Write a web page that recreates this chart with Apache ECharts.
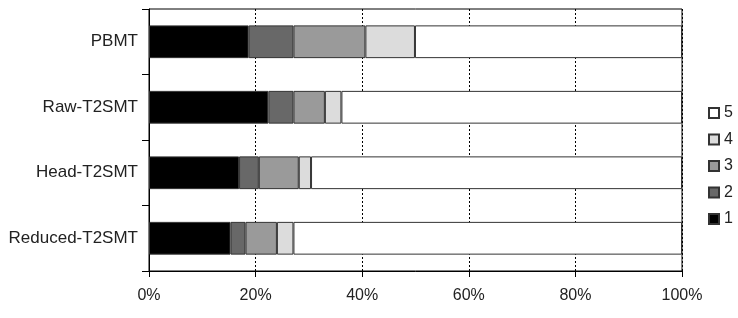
<!DOCTYPE html>
<html>
<head>
<meta charset="utf-8">
<script src="https://cdn.jsdelivr.net/npm/echarts@6/dist/echarts.min.js"></script>
<style>
  html, body { margin: 0; padding: 0; background: #fff; }
  #chart { width: 738px; height: 318px; }
</style>
</head>
<body>
<div id="chart"></div>
<script>
// categories top to bottom
const systems = ['PBMT', 'Raw-T2SMT', 'Head-T2SMT', 'Reduced-T2SMT']
// share (%) of each score per system
const score1 = [18.7, 22.4, 16.9, 15.3]
const score2 = [8.4, 4.7, 3.7, 2.8]
const score3 = [13.5, 5.9, 7.5, 5.9]
const score4 = [9.3, 3.1, 2.3, 3.1]
const score5 = [50.1, 63.9, 69.6, 72.9]
const scoreNames = ['1', '2', '3', '4', '5']
const scoreColors = ['#000000', '#686868', '#9a9a9a', '#dcdcdc', '#ffffff']

const scoreData = [score1, score2, score3, score4, score5]
const font = 'Liberation Sans, Arial, sans-serif'

let myChart = echarts.init(document.getElementById('chart'))

myChart.setOption({
  animation: false,
  grid: {
    left: 149,
    right: 56,
    top: 9,
    bottom: 47,
    show: true,
    borderColor: '#000',
    borderWidth: 1,
    backgroundColor: 'transparent'
  },
  legend: {
    orient: 'vertical',
    left: 708,
    top: 105,
    padding: 0,
    itemWidth: 10,
    itemHeight: 10,
    itemGap: 10.5,
    icon: 'rect',
    data: ['5', '4', '3', '2', '1'],
    textStyle: { fontFamily: font, fontSize: 16, lineHeight: 15, color: '#222' }
  },
  xAxis: {
    type: 'value',
    min: 0,
    max: 100,
    interval: 20,
    axisLine: { show: true, lineStyle: { color: '#000', width: 1 } },
    axisTick: { show: true, length: 6, lineStyle: { color: '#000' } },
    axisLabel: {
      formatter: '{value}%',
      margin: 17,
      fontFamily: font,
      fontSize: 16,
      color: '#222'
    },
    splitLine: { show: true, lineStyle: { color: '#000', type: [2, 2], width: 1 } }
  },
  yAxis: {
    type: 'category',
    inverse: true,
    data: systems,
    axisLine: { show: true, lineStyle: { color: '#000', width: 1 } },
    axisTick: { show: true, length: 7, lineStyle: { color: '#000' } },
    axisLabel: { margin: 11, fontFamily: font, fontSize: 17, color: '#222' }
  },
  series: scoreData.map((vals, i) => ({
    name: scoreNames[i],
    type: 'bar',
    stack: 'total',
    barWidth: '50%',
    data: vals,
    itemStyle: { color: scoreColors[i], borderColor: '#333', borderWidth: 1 }
  }))
})
</script>
</body>
</html>
